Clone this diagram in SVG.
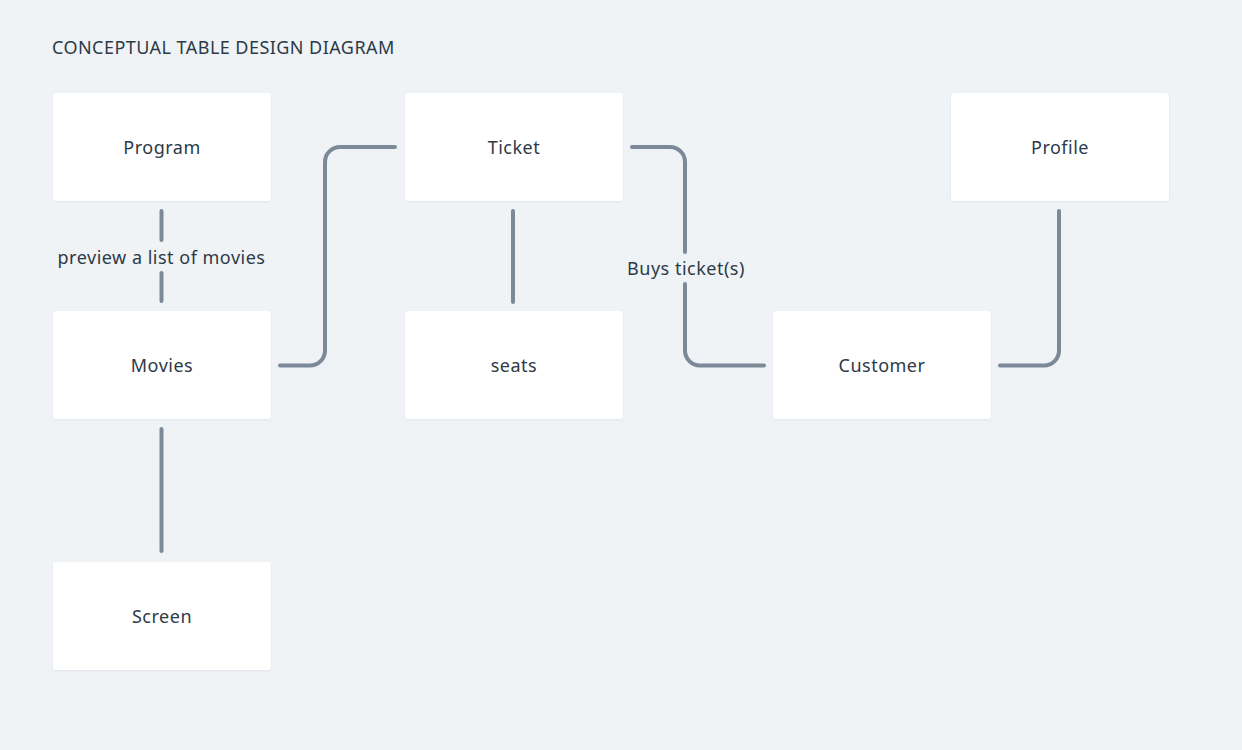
<svg xmlns="http://www.w3.org/2000/svg" width="1242" height="750" viewBox="0 0 1242 750">
<defs>
<filter id="sh" x="-5%" y="-5%" width="110%" height="115%"><feDropShadow dx="0" dy="1" stdDeviation="1" flood-color="#8899aa" flood-opacity="0.15"/></filter>
</defs>
<style>
.box{fill:#ffffff;filter:url(#sh)}
.lbl{font-family:"Noto Sans","DejaVu Sans",sans-serif;font-size:18px;letter-spacing:0.5px;fill:#2c3a47;text-anchor:middle;dominant-baseline:central}
.cl{font-family:"Noto Sans","DejaVu Sans",sans-serif;font-size:18px;letter-spacing:0.5px;fill:#2c3a47;text-anchor:middle;dominant-baseline:central}
.ln{fill:none;stroke:#7b8998;stroke-width:4;stroke-linecap:round;stroke-linejoin:round}
</style>
<rect width="1242" height="750" fill="#eff3f6"/>
<text x="52" y="47" font-family="Noto Sans, DejaVu Sans, sans-serif" font-size="18" fill="#2c3a47" letter-spacing="0.45" dominant-baseline="central">CONCEPTUAL TABLE DESIGN DIAGRAM</text>
<g id="connectors">
<path class="ln" d="M161.5 211 V240 M161.5 273 V301"/>
<path class="ln" d="M280 365.5 H310 A15 15 0 0 0 325 350.5 V162 A15 15 0 0 1 340 147 H395"/>
<path class="ln" d="M513 211 V302"/>
<path class="ln" d="M632 147 H670 A15 15 0 0 1 685 162 V252 M685 284 V350.5 A15 15 0 0 0 700 365.5 H764"/>
<path class="ln" d="M1000 365.5 H1044 A15 15 0 0 0 1059 350.5 V211"/>
<path class="ln" d="M161.5 429 V551"/>
<text class="cl" x="161.5" y="257">preview a list of movies</text>
<text class="cl" x="686" y="268">Buys ticket(s)</text>
</g>
<g id="program"><rect class="box" x="53" y="93" width="218" height="108" rx="3"/><text class="lbl" x="162" y="147">Program</text></g>
<g id="ticket"><rect class="box" x="405" y="93" width="218" height="108" rx="3"/><text class="lbl" x="514" y="147">Ticket</text></g>
<g id="profile"><rect class="box" x="951" y="93" width="218" height="108" rx="3"/><text class="lbl" x="1060" y="147">Profile</text></g>
<g id="movies"><rect class="box" x="53" y="311" width="218" height="108" rx="3"/><text class="lbl" x="162" y="365">Movies</text></g>
<g id="seats"><rect class="box" x="405" y="311" width="218" height="108" rx="3"/><text class="lbl" x="514" y="365">seats</text></g>
<g id="customer"><rect class="box" x="773" y="311" width="218" height="108" rx="3"/><text class="lbl" x="882" y="365">Customer</text></g>
<g id="screen"><rect class="box" x="53" y="562" width="218" height="108" rx="3"/><text class="lbl" x="162" y="616">Screen</text></g>
</svg>
